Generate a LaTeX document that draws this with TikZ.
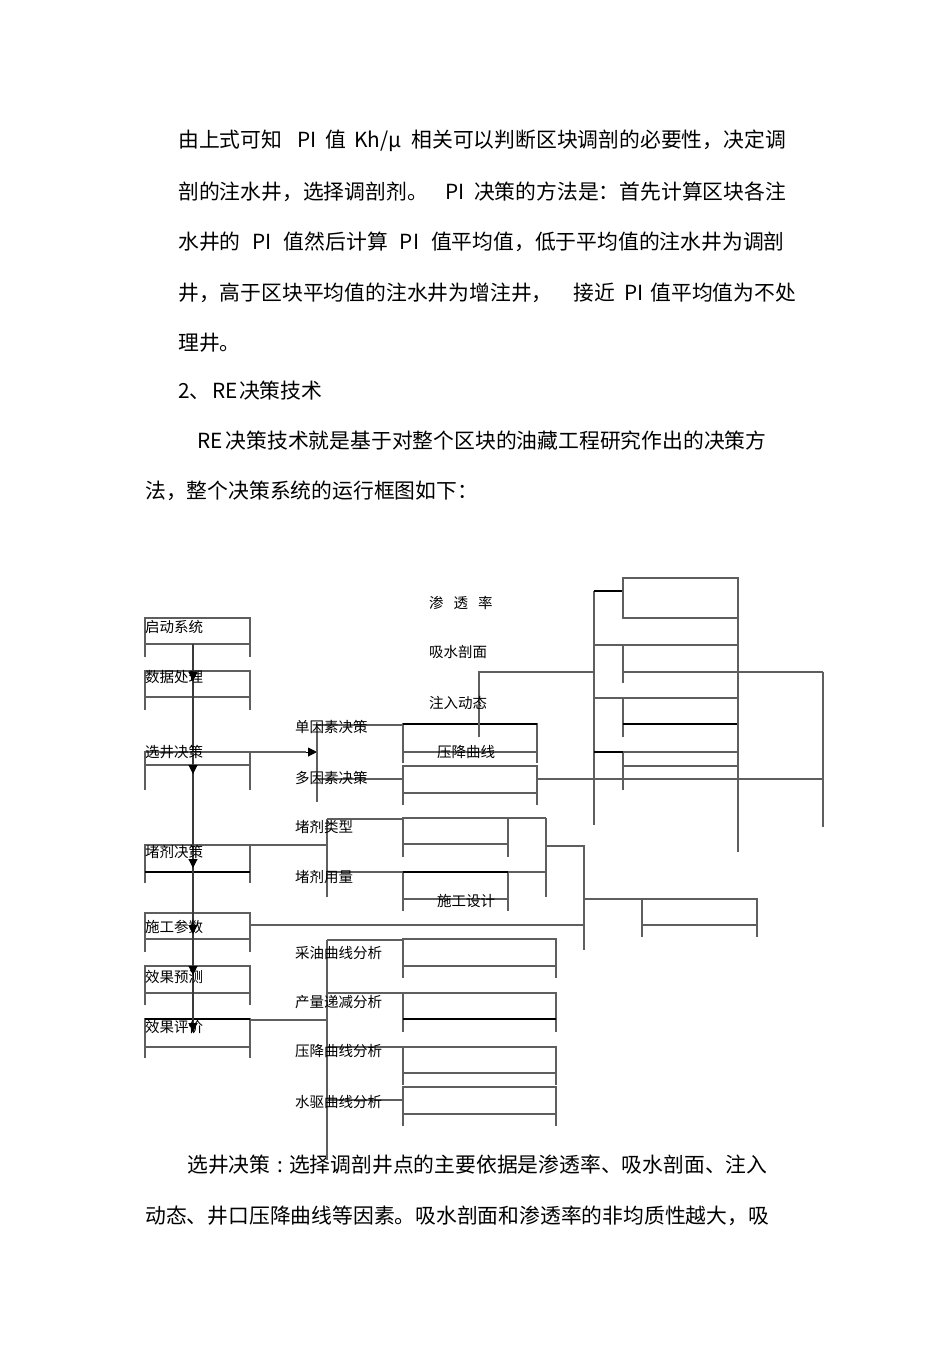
\documentclass[tikz,border=0pt]{standalone}
\usepackage{fontspec}
\setmainfont{Noto Sans CJK SC}
\usetikzlibrary{arrows.meta}
\definecolor{formGray}{HTML}{5E5E5E}
\definecolor{formDark}{HTML}{3A3A3A}
\newcommand{\legbox}[5]{\draw[ln] (#1,#5)--(#1,#3)--(#2,#3)--(#2,#5) (#1,#4)--(#2,#4);}

\begin{document}
\begin{tikzpicture}[x=1pt,y=-1pt,
  txt/.style={anchor=west,inner sep=0pt,font=\fontsize{20.8}{24}\selectfont},
  lbl/.style={anchor=west,inner sep=0pt,font=\fontsize{14.5}{16}\selectfont},
  ln/.style={formGray,line width=1.3pt},
  bk/.style={black,line width=2pt},
  arr/.style={formDark,line width=2pt},
  tip/.style={-{Triangle[length=9pt,width=9pt]},black,line width=1pt}]
  \fill[white] (0,0) rectangle (950,1345);
  \useasboundingbox (0,0) rectangle (950,1345);
  \node[txt] (t1) at (178,141) {由上式可知\hspace{15pt}PI\hspace{9pt}值\hspace{8pt}Kh/μ\hspace{10pt}相关可以判断区块调剖的必要性，决定调};
  \node[txt] (t2) at (178,192) {剖的注水井，选择调剖剂。\hspace{18pt}PI\hspace{9pt}决策的方法是：首先计算区块各注};
  \node[txt] (t3) at (178,242) {水井的\hspace{12pt}PI\hspace{12pt}值然后计算\hspace{12pt}PI\hspace{12pt}值平均值，低于平均值的注水井为调剖};
  \node[txt] (t4) at (178,293) {井，高于区块平均值的注水井为增注井，\hspace{21pt}接近\hspace{9pt}PI\hspace{7pt}值平均值为不处};
  \node[txt] (t5) at (178,343) {理井。};
  \node[txt] (t6) at (178,391) {2、\hspace{2pt}RE\hspace{1pt}决策技术};
  \node[txt] (t7) at (197,441) {RE\hspace{3pt}决策技术就是基于对整个区块的油藏工程研究作出的决策方};
  \node[txt] (t8) at (145,491) {法，整个决策系统的运行框图如下：};
  \node[txt] (t9) at (187,1165) {选井决策\hspace{7pt}:\hspace{6pt}选择调剖井点的主要依据是渗透率、吸水剖面、注入};
  \node[txt] (t10) at (145,1216) {动态、井口压降曲线等因素。吸水剖面和渗透率的非均质性越大，吸};

  \legbox{145}{250}{618}{644}{657}
  \legbox{145}{250}{671}{697}{710}
  \legbox{145}{250}{752}{765}{790}
  \legbox{145}{250}{845}{872}{883}
  \legbox{145}{250}{913}{939}{952}
  \legbox{145}{250}{966}{993}{1005}
  \legbox{145}{250}{1019}{1047}{1058}
  \draw[bk] (145,872)--(250,872) (145,1019)--(250,1019);
  \draw[arr] (193,644)--(193,1032);
  \foreach \y in {681,774,868,934,975,1032} \draw[tip] (193,\y-9)--(193,\y);
  \draw[ln] (193,752)--(306,752);
  \draw[tip] (306,752)--(317,752);

  \draw[ln] (317,725)--(317,802) (317,725)--(403,725) (317,779)--(403,779);
  \legbox{403}{537}{724}{752}{763}
  \legbox{403}{537}{766}{793}{805}
  \draw[bk] (403,724)--(537,724);
  \draw[ln] (537,779)--(823,779) (479,737)--(479,672)--(594,672) (594,591)--(594,825);
  \draw[bk] (594,591)--(623,591);
  \draw[ln] (623,578) rectangle (738,618);
  \draw[ln] (594,645)--(738,645) (623,645)--(623,683) (623,672)--(823,672);
  \draw[ln] (594,698)--(738,698) (623,698)--(623,737);
  \draw[bk] (623,724)--(738,724);
  \draw[ln] (594,752)--(738,752) (623,752)--(623,790) (623,766)--(738,766);
  \draw[bk] (594,752)--(623,752);
  \draw[ln] (738,578)--(738,852) (823,672)--(823,827);

  \draw[ln] (250,845)--(327,845) (327,819)--(327,897) (327,819)--(403,819) (327,872)--(403,872);
  \legbox{403}{508}{818}{844}{857}
  \legbox{403}{508}{872}{899}{911}
  \draw[bk] (403,872)--(508,872);
  \draw[ln] (508,818)--(546,818) (508,872)--(546,872) (546,818)--(546,897)
    (546,846)--(584,846)--(584,950) (584,899)--(642,899) (250,925)--(584,925);
  \legbox{642}{757}{899}{925}{937}

  \draw[ln] (250,1020)--(327,1020) (327,940)--(327,1160);
  \foreach \y in {940,993,1047,1100} \draw[ln] (327,\y)--(403,\y);
  \legbox{403}{556}{939}{966}{978}
  \legbox{403}{556}{993}{1019}{1032}
  \legbox{403}{556}{1047}{1073}{1085}
  \legbox{403}{556}{1087}{1114}{1126}
  \draw[bk] (403,1019)--(556,1019);

  \node[lbl] (sys) at (145,627) {启动系统};
  \node[lbl] (proc) at (145,677) {数据处理};
  \node[lbl] (well) at (145,752) {选井决策};
  \node[lbl] (plug) at (145,852) {堵剂决策};
  \node[lbl] (cons) at (145,927) {施工参数};
  \node[lbl] (pred) at (145,977) {效果预测};
  \node[lbl] (eval) at (145,1027) {效果评价};
  \node[lbl] (single) at (295,727) {单因素决策};
  \node[lbl] (multi) at (295,778) {多因素决策};
  \node[lbl] (ptype) at (295,827) {堵剂类型};
  \node[lbl] (pvol) at (295,877) {堵剂用量};
  \node[lbl] (oil) at (295,953) {采油曲线分析};
  \node[lbl] (decl) at (295,1002) {产量递减分析};
  \node[lbl] (pcurve) at (295,1051) {压降曲线分析};
  \node[lbl] (wcurve) at (295,1102) {水驱曲线分析};
  \node[lbl] (perm) at (429,603) {渗\hspace{10pt}透\hspace{10pt}率};
  \node[lbl] (prof) at (429,652) {吸水剖面};
  \node[lbl] (inj) at (429,703) {注入动态};
  \node[lbl] (pdrop) at (437,752) {压降曲线};
  \node[lbl] (design) at (437,901) {施工设计};
\end{tikzpicture}
\end{document}
